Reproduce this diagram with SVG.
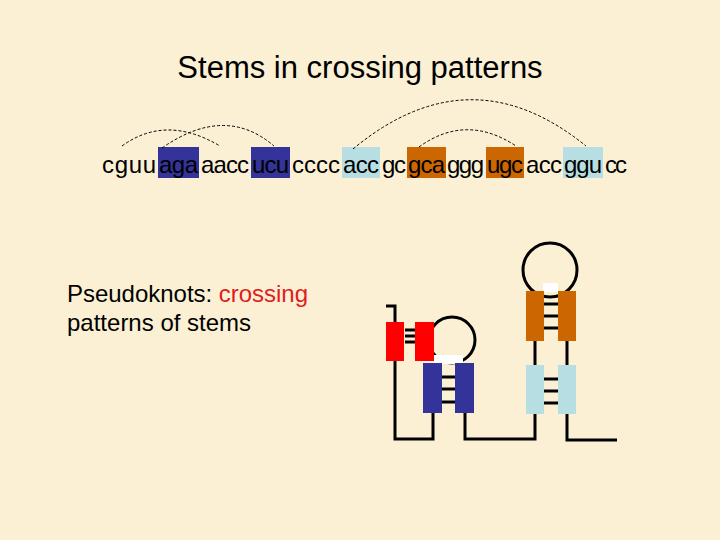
<svg xmlns="http://www.w3.org/2000/svg" width="720" height="540" viewBox="0 0 720 540">
<style>
text{font-family:"Liberation Sans",Arial,sans-serif;fill:#000}
.s{font-size:24px}
.arc{fill:none;stroke:#000;stroke-width:1;stroke-dasharray:3,2}
.ln{fill:none;stroke:#000;stroke-width:3}
.rung{stroke:#000;stroke-width:3}
</style>
<rect width="720" height="540" fill="#FBF0D4"/>
<text x="360" y="78" font-size="31" text-anchor="middle">Stems in crossing patterns</text>
<g id="sequence">
<rect x="158" y="147" width="41" height="31" fill="#333399"/>
<rect x="251" y="147" width="39" height="31" fill="#333399"/>
<rect x="342" y="147" width="38" height="31" fill="#B7DFE3"/>
<rect x="407" y="147" width="39" height="31" fill="#CC6600"/>
<rect x="486" y="147" width="38" height="31" fill="#CC6600"/>
<rect x="563" y="147" width="40" height="31" fill="#B7DFE3"/>
<text class="s" y="173"><tspan x="102" textLength="54">cguu</tspan><tspan x="159" textLength="39">aga</tspan><tspan x="201" textLength="48">aacc</tspan><tspan x="252" textLength="37">ucu</tspan><tspan x="292" textLength="48">cccc</tspan><tspan x="343" textLength="36">acc</tspan><tspan x="382" textLength="24">gc</tspan><tspan x="408" textLength="37">gca</tspan><tspan x="447" textLength="37">ggg</tspan><tspan x="487" textLength="36">ugc</tspan><tspan x="526" textLength="36">acc</tspan><tspan x="564" textLength="38">ggu</tspan><tspan x="605" textLength="22">cc</tspan></text>
</g>
<g id="connectors">
<path class="arc" d="M122,146 Q166,114 220,146"/>
<path class="arc" d="M162,148 Q225,104 274,146"/>
<path class="arc" d="M353,149 Q470,52 586,146"/>
<path class="arc" d="M419,147 Q466,113 516,146"/>
</g>
<g id="label">
<text x="67" y="302" font-size="24" textLength="241">Pseudoknots: <tspan fill="#E02020">crossing</tspan></text>
<text x="67" y="331" font-size="24">patterns of stems</text>
</g>
<g id="structure">
<circle cx="452" cy="340" r="23" class="ln"/>
<circle cx="550" cy="270" r="27" class="ln"/>
<rect x="433" y="355" width="30" height="9" fill="#fff"/>
<rect x="543" y="283" width="15" height="9" fill="#fff"/>
<path class="ln" d="M386,306 H395 V439 H433 V413"/>
<path class="ln" d="M465,413 V439 H535 V414"/>
<path class="ln" d="M567,414 V440 H617"/>
<path class="ln" d="M535,341 V365 M567,341 V365"/>
<rect x="386" y="322" width="18" height="39" fill="#FF0000"/>
<rect x="415" y="322" width="19" height="39" fill="#FF0000"/>
<path class="rung" d="M405,330H415M405,336H415M405,342H415"/>
<rect x="423" y="363" width="19" height="50" fill="#333399"/>
<rect x="455" y="363" width="19" height="50" fill="#333399"/>
<path class="rung" d="M442,377H455M442,389H455M442,402H455"/>
<rect x="526" y="291" width="18" height="50" fill="#CC6600"/>
<rect x="558" y="291" width="18" height="50" fill="#CC6600"/>
<path class="rung" d="M544,304H558M544,316H558M544,328H558"/>
<rect x="526" y="365" width="18" height="49" fill="#B7DFE3"/>
<rect x="558" y="365" width="18" height="49" fill="#B7DFE3"/>
<path class="rung" d="M544,379H558M544,391H558M544,403H558"/>
</g>
</svg>
